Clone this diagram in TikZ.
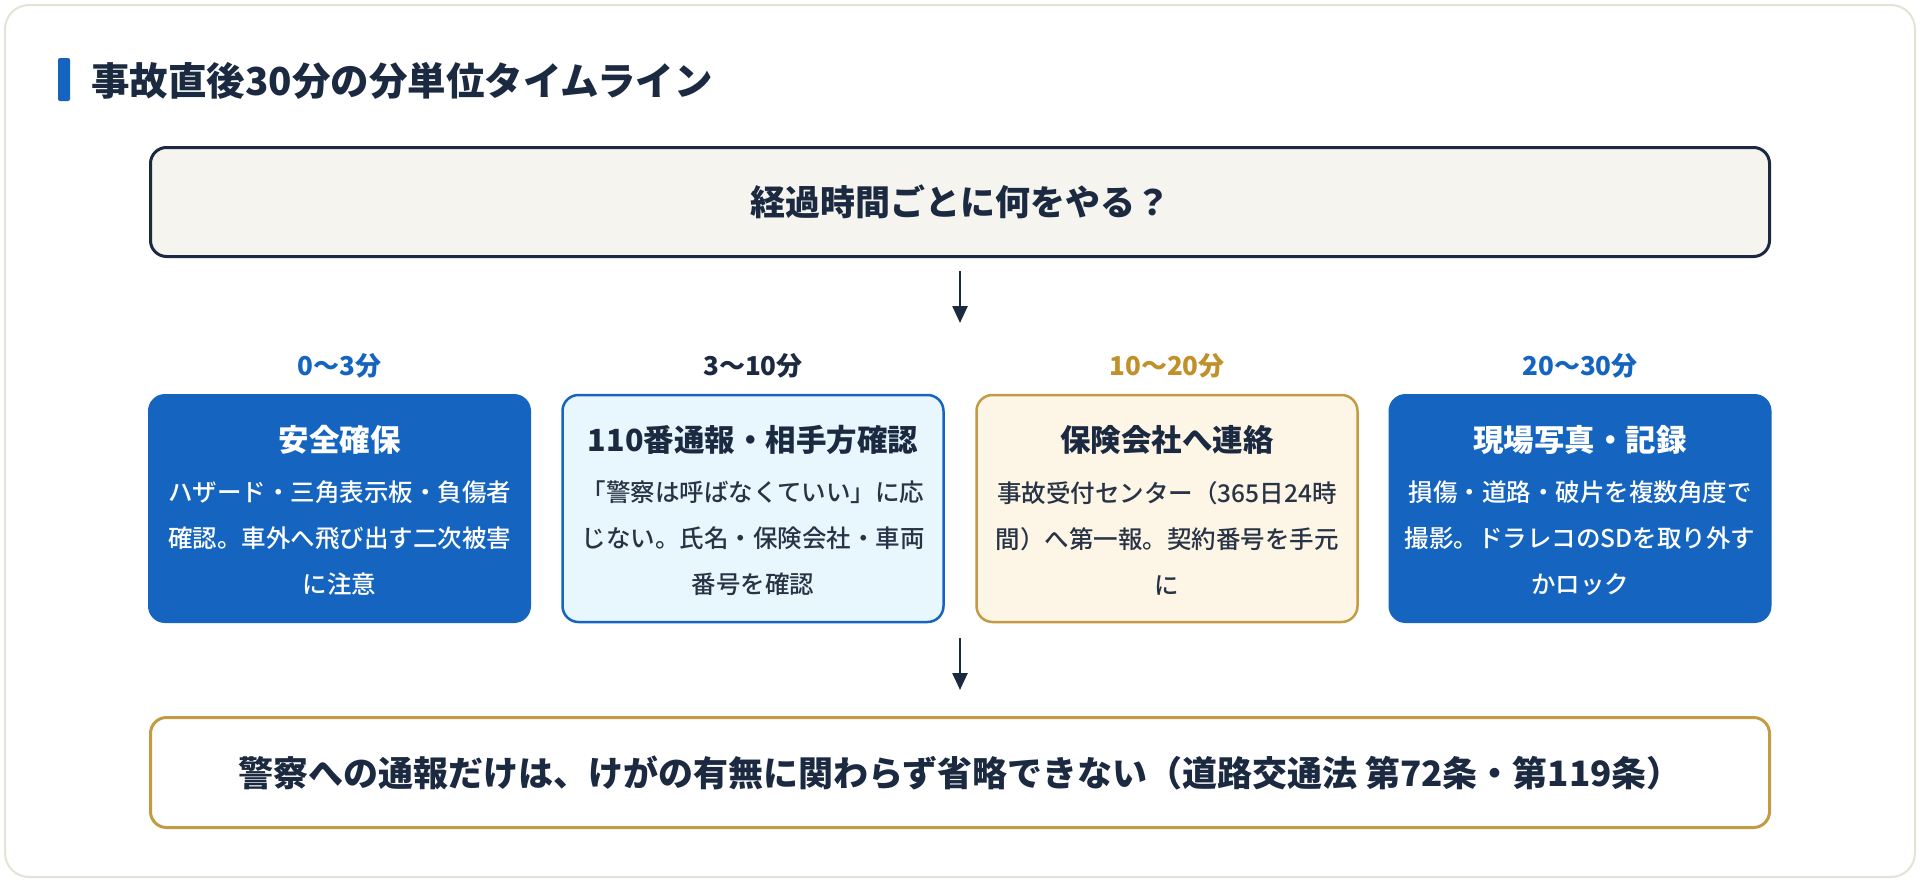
\documentclass[tikz,border=0pt]{standalone}
\usepackage{fontspec}
\setmainfont{Noto Sans CJK JP}
\newfontfamily\medfont{Noto Sans CJK JP Medium}
\usetikzlibrary{arrows.meta, positioning}
\definecolor{navy}{RGB}{27, 42, 64}
\definecolor{bodyink}{RGB}{40, 52, 70}
\definecolor{tlblue}{RGB}{21, 101, 192}
\definecolor{paleblue}{RGB}{232, 246, 253}
\definecolor{cream}{RGB}{253, 245, 230}
\definecolor{gold}{RGB}{196, 154, 66}
\definecolor{goldtext}{RGB}{192, 144, 42}
\definecolor{qfill}{RGB}{245, 244, 239}
\definecolor{cardline}{RGB}{229, 227, 214}

\begin{document}
\begin{tikzpicture}[
    x=1pt, y=-1pt,
    card/.style={draw=cardline, line width=2pt, fill=white, rounded corners=24pt},
    heading/.style={font=\fontsize{38.5}{44}\selectfont\bfseries, text=navy, inner sep=0pt},
    qbox/.style={rectangle, rounded corners=16pt, draw=navy, fill=qfill, line width=3pt,
                 minimum width=1619pt, minimum height=109pt,
                 font=\fontsize{35}{40}\selectfont\bfseries, text=navy},
    notebox/.style={rectangle, rounded corners=16pt, draw=gold, fill=white, line width=3pt,
                 minimum width=1619pt, minimum height=110pt,
                 font=\fontsize{35}{40}\selectfont\bfseries, text=navy},
    stepbox/.style={rectangle, rounded corners=16pt, minimum width=381pt, minimum height=227pt},
    stepblue/.style={stepbox, fill=tlblue, draw=tlblue, line width=2pt},
    steplight/.style={stepbox, fill=paleblue, draw=tlblue, line width=2.5pt},
    stepcream/.style={stepbox, fill=cream, draw=gold, line width=2.5pt},
    when/.style={font=\fontsize{26}{30}\selectfont\bfseries, inner sep=0pt},
    steptitle/.style={font=\fontsize{30.5}{36}\selectfont\bfseries, inner sep=0pt},
    stepbody/.style={font=\medfont\fontsize{24.5}{46}\selectfont, align=center, inner sep=0pt},
    flow/.style={draw=navy, line width=2.5pt, -{Triangle[length=17pt, width=15pt]}}
]

\useasboundingbox (0,0) rectangle (1920,881);
\draw[card] (5,5) rectangle (1915,877);

%% heading with accent bar
\fill[tlblue, rounded corners=2pt] (58,58) rectangle (70,101);
\node[heading, anchor=west] (ttl) at (91,81) {事故直後30分の分単位タイムライン};

%% question
\node[qbox] (q) at (960,202) {経過時間ごとに何をやる？};
\coordinate (a1) at (960,323);
\draw[flow, shorten <=13pt] (q.south) -- (a1);

%% time slots
\node[when, text=tlblue]   (w1) at (339.5,366) {0〜3分};
\node[when, text=navy]     (w2) at (753,366)   {3〜10分};
\node[when, text=goldtext] (w3) at (1167,366)  {10〜20分};
\node[when, text=tlblue]   (w4) at (1580,366)  {20〜30分};

\node[stepblue]  (safe)   at (339.5,508.5) {};
\node[steplight] (police) at (753,508.5)   {};
\node[stepcream] (insure) at (1167,508.5)  {};
\node[stepblue]  (photo)  at (1580,508.5)  {};

\node[steptitle, text=white] (safeT)   at (339.5,440) {安全確保};
\node[steptitle, text=navy]  (policeT) at (753,440)   {110番通報・相手方確認};
\node[steptitle, text=navy]  (insureT) at (1167,440)  {保険会社へ連絡};
\node[steptitle, text=white] (photoT)  at (1580,440)  {現場写真・記録};

\node[stepbody, text=white]   (safeB)   at (339.5,538) {ハザード・三角表示板・負傷者\\確認。車外へ飛び出す二次被害\\に注意};
\node[stepbody, text=bodyink] (policeB) at (753,538)   {「警察は呼ばなくていい」に応\\じない。氏名・保険会社・車両\\番号を確認};
\node[stepbody, text=bodyink] (insureB) at (1167,538)  {事故受付センター（365日24時\\間）へ第一報。契約番号を手元\\に};
\node[stepbody, text=white]   (photoB)  at (1580,538)  {損傷・道路・破片を複数角度で\\撮影。ドラレコのSDを取り外す\\かロック};

%% conclusion
\coordinate (a2) at (960,638);
\node[notebox] (note) at (960,772.5) {警察への通報だけは、けがの有無に関わらず省略できない（道路交通法 第72条・第119条）};
\draw[flow, shorten >=26pt] (a2) -- (note.north);

\end{tikzpicture}
\end{document}
